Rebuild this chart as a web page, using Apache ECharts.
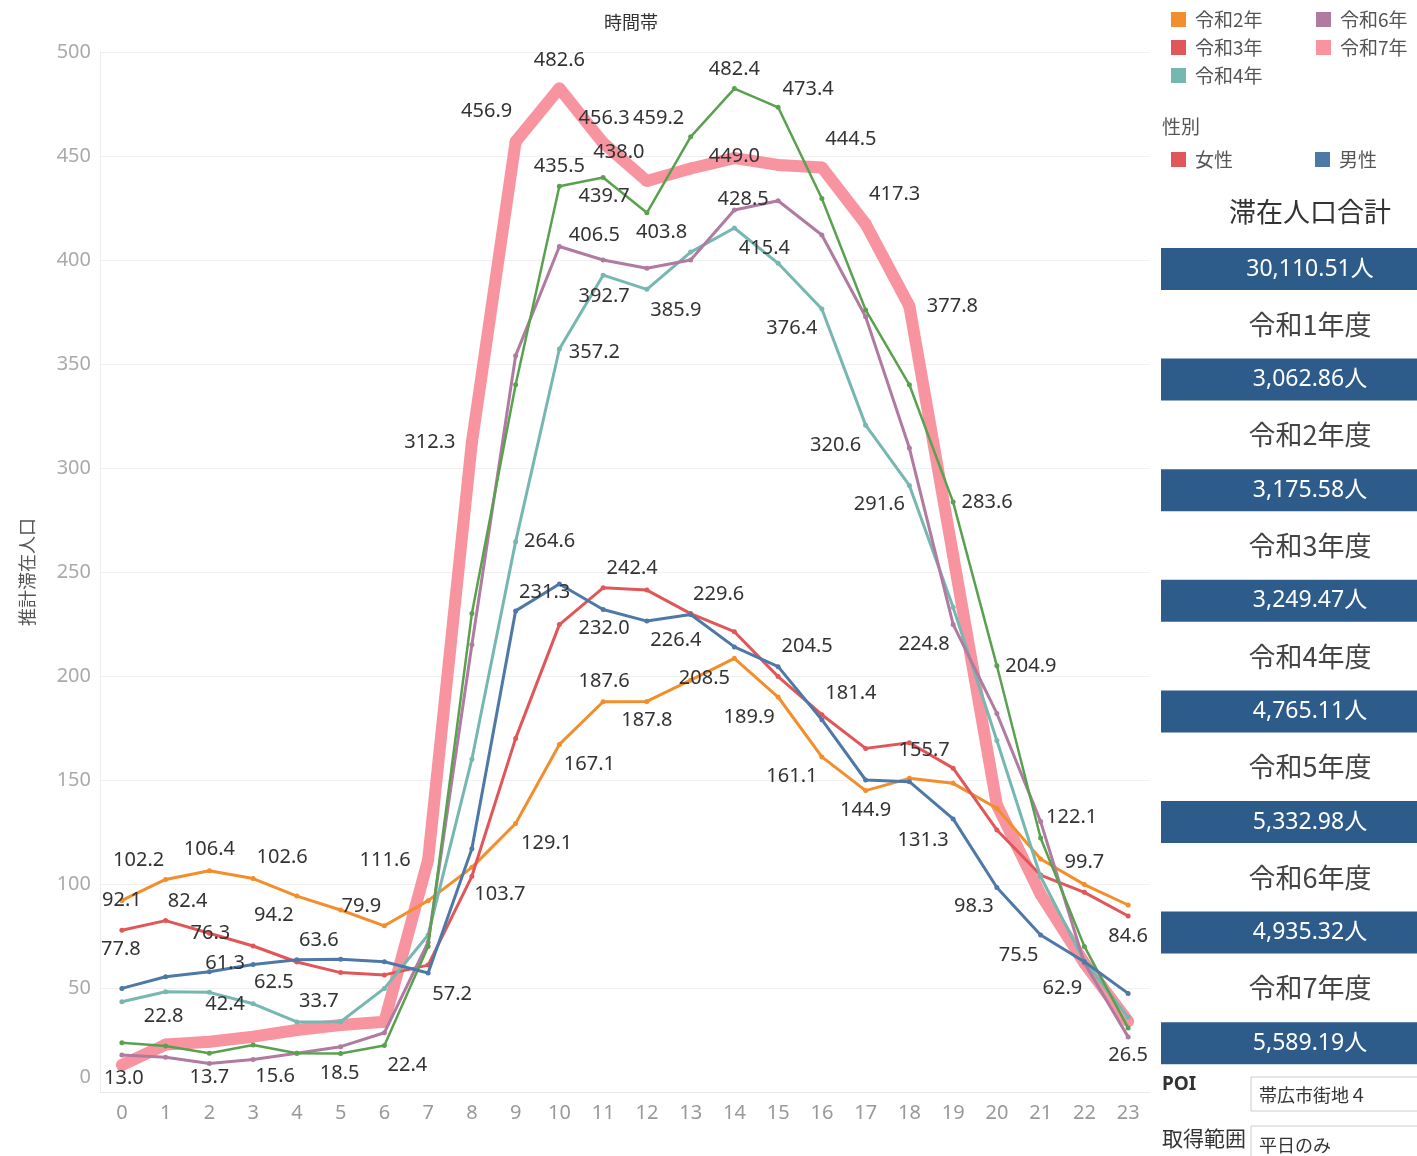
<!DOCTYPE html>
<html>
<head>
<meta charset="utf-8">
<script src="https://cdn.jsdelivr.net/npm/echarts@6/dist/echarts.min.js"></script>
<style>
  html, body { margin: 0; padding: 0; background: #fff; }
  #main { width: 1417px; height: 1156px; }
</style>
</head>
<body>
<div id="main"></div>
<script>
// hours on the x axis
const hours = ['0','1','2','3','4','5','6','7','8','9','10','11','12','13','14','15','16','17','18','19','20','21','22','23'];

// 推計滞在人口 by hour
const reiwa2 = [92.1, 102.2, 106.4, 102.6, 94.2, 87.5, 79.9, 92.0, 108.0, 129.1, 167.1, 187.6, 187.8, 198.0, 208.5, 189.9, 161.1, 144.9, 150.8, 148.4, 136.4, 112.0, 99.7, 89.9];
const reiwa3 = [77.8, 82.4, 76.3, 70.2, 62.5, 57.4, 56.3, 61.0, 103.7, 170.0, 224.7, 242.4, 241.3, 230.0, 221.3, 199.7, 181.4, 165.2, 167.9, 155.7, 126.0, 104.3, 96.0, 84.6];
const reiwa4 = [43.4, 48.2, 47.9, 42.4, 33.7, 33.8, 49.8, 75.5, 160.0, 264.6, 357.2, 392.7, 385.9, 403.8, 415.4, 398.4, 376.4, 320.6, 291.6, 233.0, 169.0, 103.5, 62.9, 36.0];
const reiwa5 = [23.7, 22.1, 18.6, 22.6, 18.6, 18.5, 22.4, 70.0, 230.0, 340.0, 435.5, 439.7, 422.7, 459.2, 482.4, 473.4, 429.6, 376.0, 340.0, 283.6, 204.9, 122.1, 70.0, 30.8];
const reiwa6 = [17.8, 16.7, 13.7, 15.6, 18.6, 21.8, 28.5, 72.0, 215.0, 354.0, 406.5, 400.0, 396.0, 400.0, 424.0, 428.5, 412.0, 372.7, 309.6, 224.8, 182.0, 130.0, 62.0, 26.5];
const reiwa7 = [13.0, 22.8, 24.2, 26.6, 29.8, 32.2, 33.8, 111.6, 312.3, 456.9, 482.6, 456.3, 438.0, 444.0, 449.0, 445.7, 444.5, 417.3, 377.8, 258.0, 138.0, 95.0, 62.0, 34.0];
const male   = [49.8, 55.4, 57.8, 61.3, 63.6, 63.8, 62.6, 57.2, 117.0, 231.3, 244.2, 232.0, 226.4, 229.6, 214.0, 204.5, 179.0, 150.0, 149.2, 131.3, 98.3, 75.5, 62.6, 47.4];

// right hand summary
const totalLabel = '滞在人口合計';
const totalValue = '30,110.51人';
const yearLabels = ['令和1年度', '令和2年度', '令和3年度', '令和4年度', '令和5年度', '令和6年度', '令和7年度'];
const yearValues = ['3,062.86人', '3,175.58人', '3,249.47人', '4,765.11人', '5,332.98人', '4,935.32人', '5,589.19人'];

// which points carry a value label, and where the label sits (offset from the point)
const labelSpots = {
  reiwa2: [[0,0,0],[1,-27,-19],[2,0,-21],[3,29,-21],[4,-23,19],[6,-23,-20],[9,31,20],[10,30,20],[11,1,-20],[12,0,19],[14,-30,20],[15,-29,20],[16,-30,19],[17,0,20],[22,0,-22]],
  reiwa3: [[0,-1,19],[1,22,-19],[2,1,0],[4,-23,20],[8,28,18],[11,29,-20],[16,29,-21],[19,-29,-18],[23,0,20]],
  reiwa4: [[3,-28,0],[4,22,-21],[9,34,0],[10,35,3],[11,1,21],[12,29,21],[13,-29,-20],[14,30,20],[16,-30,19],[17,-30,20],[18,-30,19],[22,-22,27]],
  reiwa5: [[5,-1,20],[6,23,20],[10,0,-20],[11,1,19],[13,-32,-19],[14,0,-19],[15,30,-18],[19,34,0],[20,34,0],[21,31,-21]],
  reiwa6: [[2,0,14],[3,22,17],[10,35,-11],[15,-35,-1],[19,-29,20],[23,0,18]],
  reiwa7: [[0,2,13],[1,-2,-28],[7,-43,0],[8,-42,0],[9,-29,-30],[10,0,-28],[11,1,-25],[12,-28,-29],[14,0,-2],[16,29,-28],[17,29,-30],[18,43,0]],
  male:   [[3,-28,-1],[4,22,-19],[7,24,21],[9,29,-19],[11,1,19],[12,29,19],[13,28,-20],[15,29,-20],[19,-30,21],[20,-23,19],[21,-22,20]]
};

const numFont = '"Noto Sans", "Noto Sans CJK JP", sans-serif';
const jpFont = '"Noto Sans CJK JP", sans-serif';

function withLabels(values, spots) {
  const map = {};
  spots.forEach(s => { map[s[0]] = [s[1], s[2]]; });
  return values.map((v, i) => {
    if (!map[i]) return v;
    return {
      value: v,
      label: {
        show: true,
        position: 'inside',
        offset: map[i],
        formatter: p => p.value.toFixed(1),
        fontSize: 20,
        color: '#333',
        fontFamily: numFont
      }
    };
  });
}

function lineSeries(name, values, spots, color, width, z) {
  return {
    name: name,
    type: 'line',
    data: withLabels(values, spots),
    symbol: 'circle',
    symbolSize: width > 6 ? width : 5,
    showAllSymbol: true,
    lineStyle: { color: color, width: width },
    itemStyle: { color: color },
    emphasis: { disabled: true },
    z: z,
    animation: false
  };
}

const chart = echarts.init(document.getElementById('main'));

const graphics = [];
graphics.push({ type: 'text', x: 1310, y: 212, style: { text: totalLabel, fill: '#333', fontSize: 27, fontFamily: jpFont, align: 'center', verticalAlign: 'middle' } });
const boxTop = 248, step = 110.6;
function valueBox(y, text) {
  graphics.push({ type: 'rect', shape: { x: 1161, y: y, width: 256, height: 42 }, style: { fill: '#2d5b8a' } });
  graphics.push({ type: 'text', x: 1310, y: y + 21, style: { text: text, fill: '#fff', fontSize: 23, fontFamily: numFont, align: 'center', verticalAlign: 'middle' } });
}
valueBox(boxTop, totalValue);
yearLabels.forEach((lab, i) => {
  const y = boxTop + step * (i + 1);
  graphics.push({ type: 'text', x: 1310, y: y - 34, style: { text: lab, fill: '#444', fontSize: 27, fontFamily: jpFont, align: 'center', verticalAlign: 'middle' } });
  valueBox(y, yearValues[i]);
});
// filters at the bottom right
graphics.push({ type: 'text', x: 1162, y: 1085, style: { text: 'POI', fill: '#333', fontSize: 19, fontWeight: 'bold', fontFamily: numFont, verticalAlign: 'middle' } });
graphics.push({ type: 'rect', shape: { x: 1251, y: 1077, width: 170, height: 34 }, style: { fill: '#fff', stroke: '#ccc', lineWidth: 1 } });
graphics.push({ type: 'text', x: 1259, y: 1095, style: { text: '帯広市街地４', fill: '#333', fontSize: 18, fontFamily: jpFont, verticalAlign: 'middle' } });
graphics.push({ type: 'text', x: 1162, y: 1138, style: { text: '取得範囲', fill: '#333', fontSize: 21, fontFamily: jpFont, verticalAlign: 'middle' } });
graphics.push({ type: 'rect', shape: { x: 1251, y: 1126, width: 170, height: 34 }, style: { fill: '#fff', stroke: '#ccc', lineWidth: 1 } });
graphics.push({ type: 'text', x: 1259, y: 1145, style: { text: '平日のみ', fill: '#333', fontSize: 18, fontFamily: jpFont, verticalAlign: 'middle' } });
graphics.push({ type: 'text', x: 1162, y: 127, style: { text: '性別', fill: '#555', fontSize: 19, fontFamily: jpFont, verticalAlign: 'middle' } });

const legendText = { fontSize: 19, color: '#555', fontFamily: jpFont, padding: [0, 0, 0, 4] };

const option = {
  backgroundColor: '#fff',
  animation: false,
  title: {
    text: '時間帯',
    left: 626,
    top: 8,
    textAlign: 'center',
    textStyle: { fontSize: 18, fontWeight: 'normal', color: '#333', fontFamily: jpFont }
  },
  legend: [
    { data: ['令和2年', '令和3年', '令和4年'], orient: 'vertical', left: 1166, top: 5, icon: 'rect', itemWidth: 15, itemHeight: 15, itemGap: 9, textStyle: legendText, selectedMode: false },
    { data: ['令和6年', '令和7年'], orient: 'vertical', left: 1311, top: 5, icon: 'rect', itemWidth: 15, itemHeight: 15, itemGap: 9, textStyle: legendText, selectedMode: false },
    { data: ['女性', '男性'], orient: 'horizontal', left: 1166, top: 145, icon: 'rect', itemWidth: 15, itemHeight: 15, itemGap: 82, textStyle: legendText, selectedMode: false }
  ],
  grid: { left: 100, right: 267, top: 52, bottom: 64 },
  xAxis: {
    type: 'category',
    data: hours,
    boundaryGap: true,
    axisLine: { show: true, lineStyle: { color: '#e8e8e8' } },
    axisTick: { show: false },
    axisLabel: { fontSize: 20, color: '#999', margin: 11, fontFamily: numFont },
    splitLine: { show: false }
  },
  yAxis: {
    type: 'value',
    min: 0,
    max: 500,
    interval: 50,
    name: '推計滞在人口',
    nameLocation: 'middle',
    nameGap: 64,
    nameTextStyle: { fontSize: 18, color: '#555', fontFamily: jpFont },
    axisLine: { show: true, lineStyle: { color: '#ececec' } },
    axisTick: { show: false },
    axisLabel: {
      fontSize: 20, color: '#aaa', margin: 9, fontFamily: numFont,
      formatter: v => v === 0 ? '{z|0}' : String(v),
      rich: { z: { fontSize: 20, color: '#aaa', fontFamily: numFont, padding: [0, 0, 30, 0] } }
    },
    splitLine: { lineStyle: { color: '#f0f0f0' } }
  },
  graphic: graphics,
  series: [
    lineSeries('令和7年', reiwa7, labelSpots.reiwa7, '#f8949f', 12, 1),
    lineSeries('令和2年', reiwa2, labelSpots.reiwa2, '#f28e2b', 3, 2),
    lineSeries('令和3年', reiwa3, labelSpots.reiwa3, '#e15759', 3, 3),
    lineSeries('令和4年', reiwa4, labelSpots.reiwa4, '#76b7b2', 3, 4),
    lineSeries('令和6年', reiwa6, labelSpots.reiwa6, '#b07aa1', 3, 5),
    lineSeries('令和5年', reiwa5, labelSpots.reiwa5, '#59a14f', 2.5, 6),
    lineSeries('男性', male, labelSpots.male, '#4e79a7', 3, 7),
    // legend-only entry for 性別
    { name: '女性', type: 'line', data: [], itemStyle: { color: '#e15759' }, lineStyle: { color: '#e15759' } }
  ]
};

chart.setOption(option);
</script>
</body>
</html>
